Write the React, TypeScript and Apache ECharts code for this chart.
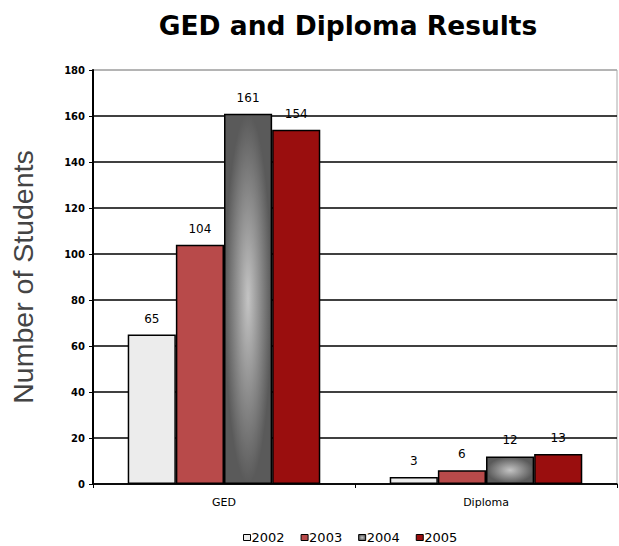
import React, { useEffect, useRef } from "react";
import * as echarts from "echarts";

const categories = ["GED", "Diploma"];
const seriesNames = ["2002", "2003", "2004", "2005"];
const values2002 = [65, 3];
const values2003 = [104, 6];
const values2004 = [161, 12];
const values2005 = [154, 13];
const yTicks = { min: 0, max: 180, interval: 20 };

const FONT = "'Liberation Sans', Arial, sans-serif";
const WIDE = "'DejaVu Sans', sans-serif";

export default function App() {
  const ref = useRef<HTMLDivElement>(null);
  useEffect(() => {
    const chart = echarts.init(ref.current!, null, { renderer: "svg" });
    const grad2004 = new echarts.graphic.RadialGradient(0.5, 0.5, 0.5, [
      { offset: 0, color: "#c4c4c4" },
      { offset: 1, color: "#5a5a5a" },
    ]);
    const colors = ["#ececec", "#b84a4a", grad2004, "#9a0e0e"];
    const dataSets = [values2002, values2003, values2004, values2005];
    const splitColors = ["#000", "#000", "#000", "#000", "#000", "#000", "#000", "#000", "#000", "#aaa"];
    chart.setOption({
      animation: false,
      backgroundColor: "#fff",
      title: {
        text: "GED and Diploma Results",
        left: 343,
        textAlign: "center",
        top: 7,
        textStyle: { fontFamily: WIDE, fontSize: 26.5, fontWeight: "bold", color: "#000" },
      },
      legend: {
        left: 243,
        top: 531,
        padding: 0,
        itemWidth: 7,
        itemHeight: 6,
        itemGap: 16,
        icon: "rect",
        data: seriesNames,
        textStyle: { fontFamily: WIDE, fontSize: 13, color: "#000", padding: [0, 0, 0, -4] },
        itemStyle: { borderColor: "#000", borderWidth: 1 },
      },
      grid: {
        left: 88,
        right: 2,
        top: 70,
        bottom: 62,
        show: true,
        borderColor: "#aaa",
        borderWidth: 1,
      },
      xAxis: {
        type: "category",
        data: categories,
        axisLine: { lineStyle: { color: "#000", width: 1.5 } },
        axisTick: { show: true, length: 4, lineStyle: { color: "#000" } },
        axisLabel: { fontFamily: WIDE, fontSize: 11, color: "#000", margin: 13 },
      },
      yAxis: {
        type: "value",
        min: yTicks.min,
        max: yTicks.max,
        interval: yTicks.interval,
        name: "Number of Students",
        nameLocation: "middle",
        nameGap: 56,
        nameTextStyle: { fontFamily: FONT, fontSize: 28.5, color: "#444" },
        axisLine: { show: true, lineStyle: { color: "#000", width: 2 } },
        axisTick: { show: true, length: 4, lineStyle: { color: "#000" } },
        axisLabel: { fontFamily: WIDE, fontSize: 10, fontWeight: "bold", color: "#000", margin: 8 },
        splitLine: { show: true, lineStyle: { color: splitColors, width: 1.5 } },
      },
      series: seriesNames.map((name, i) => ({
        name,
        type: "bar",
        data: dataSets[i],
        barGap: "0%",
        barCategoryGap: "26.5%",
        itemStyle: { color: colors[i], borderColor: "#000", borderWidth: 1.5 },
        label: {
          show: true,
          position: "top",
          distance: 10,
          fontFamily: WIDE,
          fontSize: 12,
          color: "#000",
          textBorderWidth: 0,
        },
      })),
    });
    return () => chart.dispose();
  }, []);
  return (
    <div
      ref={ref}
      style={{ position: "fixed", left: 0, top: 0, width: 619, height: 546 }}
    />
  );
}
